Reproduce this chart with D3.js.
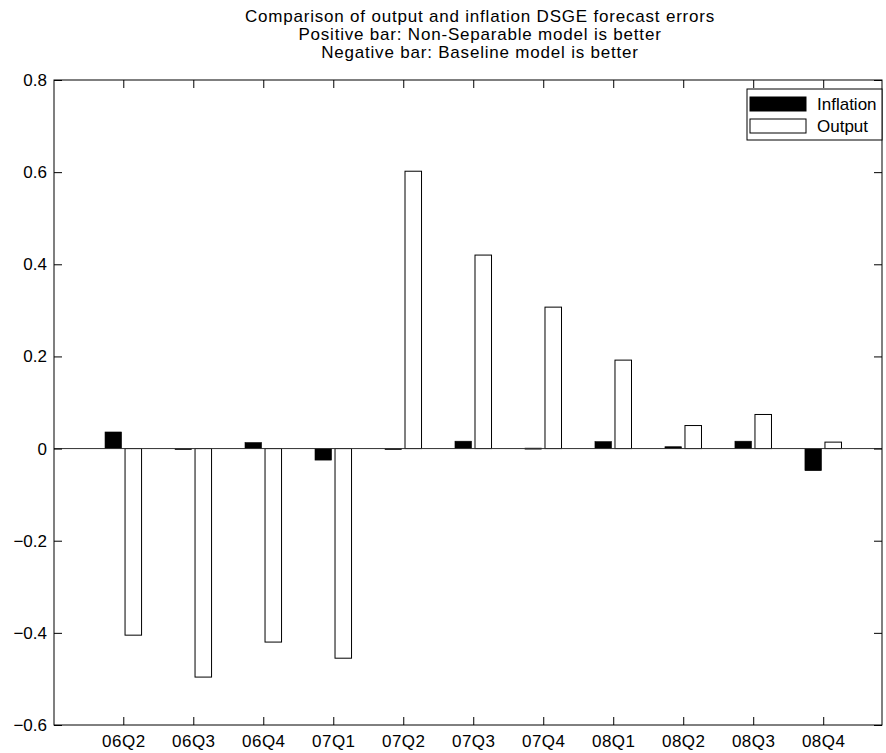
<!DOCTYPE html>
<html>
<head>
<meta charset="utf-8">
<script src="https://cdn.jsdelivr.net/npm/d3@7"></script>
<style>
  html, body { margin: 0; padding: 0; background: #fff; }
  svg { display: block; font-family: "Liberation Sans", Arial, sans-serif; }
</style>
</head>
<body>
<div id="chart"></div>
<script>
// ---- Data ----
const categories = ["06Q2","06Q3","06Q4","07Q1","07Q2","07Q3","07Q4","08Q1","08Q2","08Q3","08Q4"];
const inflation = [0.036, -0.001, 0.013, -0.025, -0.002, 0.016, 0.001, 0.015, 0.004, 0.016, -0.048];
const output    = [-0.405, -0.496, -0.420, -0.455, 0.602, 0.420, 0.307, 0.192, 0.050, 0.074, 0.014];
const yTicks = [-0.6, -0.4, -0.2, 0, 0.2, 0.4, 0.6, 0.8];
const titleLines = [
  "Comparison of output and inflation DSGE forecast errors",
  "Positive bar: Non-Separable model is better",
  "Negative bar: Baseline model is better"
];
const seriesNames = ["Inflation", "Output"];

// ---- Layout ----
const W = 886, H = 753;
const L = 54, R = 882, T = 80, B = 725;
const FONT = "17px";

const svg = d3.select("#chart").append("svg").attr("width", W).attr("height", H);

const x = d3.scaleLinear().domain([0.01, 11.84]).range([L, R]);
const y = d3.scaleLinear().domain([-0.6, 0.8]).range([B, T]);

const barW = 0.236, off = 0.143;
const idx = categories.map((c, i) => i + 1);

// bars: inflation (black)
svg.append("g").selectAll("rect").data(inflation).join("rect")
  .attr("x", (d, i) => x(idx[i] - off - barW / 2))
  .attr("width", x(barW) - x(0))
  .attr("y", d => y(Math.max(0, d)))
  .attr("height", d => Math.max(1, Math.abs(y(d) - y(0))))
  .attr("fill", "#000").attr("stroke", "#000").attr("stroke-width", 0.6);

// bars: output (white)
svg.append("g").selectAll("rect").data(output).join("rect")
  .attr("x", (d, i) => x(idx[i] + off - barW / 2))
  .attr("width", x(barW) - x(0))
  .attr("y", d => y(Math.max(0, d)))
  .attr("height", d => Math.abs(y(d) - y(0)))
  .attr("fill", "#fff").attr("stroke", "#000").attr("stroke-width", 1);

// baseline
svg.append("line").attr("x1", L).attr("x2", R).attr("y1", y(0)).attr("y2", y(0))
  .attr("stroke", "#333").attr("stroke-width", 1);

// frame
svg.append("rect").attr("x", L).attr("y", T).attr("width", R - L).attr("height", B - T)
  .attr("fill", "none").attr("stroke", "#000").attr("stroke-width", 1);

const tickLen = 8;
const xAxisB = d3.axisBottom(x).tickValues(idx).tickFormat((d, i) => categories[i])
  .tickSizeInner(-tickLen).tickSizeOuter(0).tickPadding(10);
const gxb = svg.append("g").attr("transform", `translate(0,${B})`).call(xAxisB);
const xAxisT = d3.axisTop(x).tickValues(idx).tickFormat("").tickSizeInner(-tickLen).tickSizeOuter(0);
const gxt = svg.append("g").attr("transform", `translate(0,${T})`).call(xAxisT);
const yAxisL = d3.axisLeft(y).tickValues(yTicks).tickFormat(d => d === 0 ? "0" : d3.format(".1f")(d))
  .tickSizeInner(-tickLen).tickSizeOuter(0).tickPadding(7);
const gyl = svg.append("g").attr("transform", `translate(${L},0)`).call(yAxisL);
const yAxisR = d3.axisRight(y).tickValues(yTicks).tickFormat("").tickSizeInner(-tickLen).tickSizeOuter(0);
const gyr = svg.append("g").attr("transform", `translate(${R},0)`).call(yAxisR);

[gxb, gxt, gyl, gyr].forEach(g => {
  g.select(".domain").remove();
  g.selectAll("line").attr("stroke", "#000");
  g.selectAll("text").attr("fill", "#000").style("font-size", FONT)
    .style("font-family", '"Liberation Sans", Arial, sans-serif');
});
gxb.selectAll("text").style("letter-spacing", "0.5px");

// title
svg.append("g").selectAll("text").data(titleLines).join("text")
  .attr("x", 480).attr("y", (d, i) => 22 + i * 18)
  .attr("text-anchor", "middle").style("font-size", FONT).style("letter-spacing", "0.8px")
  .attr("fill", "#000")
  .text(d => d);

// legend
const lg = svg.append("g");
lg.append("rect").attr("x", 747).attr("y", 89).attr("width", 135).attr("height", 51)
  .attr("fill", "#fff").attr("stroke", "#000").attr("stroke-width", 1);
const legendFills = ["#000", "#fff"];
seriesNames.forEach((name, i) => {
  lg.append("rect").attr("x", 750).attr("y", 97 + i * 22).attr("width", 56).attr("height", 14)
    .attr("fill", legendFills[i]).attr("stroke", "#000").attr("stroke-width", 1);
  lg.append("text").attr("x", 817).attr("y", 110 + i * 22).style("font-size", FONT)
    .attr("fill", "#000").text(name);
});
</script>
</body>
</html>
